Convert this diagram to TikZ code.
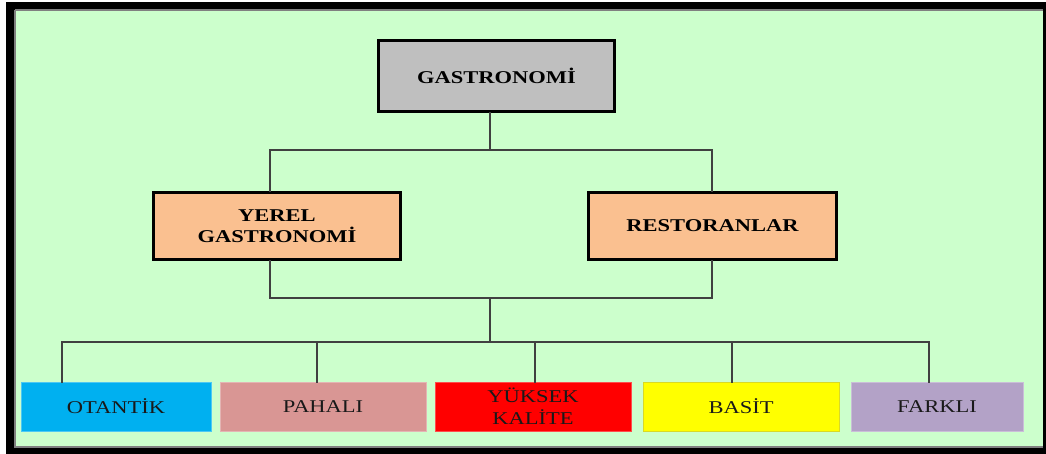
\documentclass[tikz,border=0pt]{standalone}
\usepackage{fontspec}
\setmainfont{Liberation Serif}
\newfontfamily\wideserif[FakeStretch=1.25]{Liberation Serif}
\definecolor{bgreen}{HTML}{CCFFCC}
\definecolor{gbox}{HTML}{BFBFBF}
\definecolor{peach}{HTML}{FAC090}
\definecolor{cblue}{HTML}{00B0F0}
\definecolor{cpink}{HTML}{D99694}
\definecolor{cred}{HTML}{FF0000}
\definecolor{cyellow}{HTML}{FFFF00}
\definecolor{cpurple}{HTML}{B3A2C7}
\definecolor{lineg}{HTML}{404040}
\tikzset{
  x=1pt, y=-1pt,
  topbox/.style={draw=black, line width=2.6pt, inner sep=0pt, align=center,
    font=\wideserif\bfseries\fontsize{18}{21}\selectfont, text=black},
  leafbox/.style={inner sep=0pt, align=center, line width=0.8pt,
    font=\wideserif\fontsize{18}{22}\selectfont, text=black!90},
  conn/.style={draw=lineg, line width=2.2pt, line cap=rect}
}
\begin{document}
\begin{tikzpicture}
\useasboundingbox (0,0) rectangle (1046,454);
\fill[white] (0,0) rectangle (1046,454);
\fill[black] (6,2) rectangle (1046,454);
\fill[bgreen] (15,10) rectangle (1043,447);
\draw[gray, line width=1.5pt] (15,10) -- (1043,10);
\draw[gray, line width=1.5pt] (15,10) -- (15,447) -- (1043,447);
% top
\node[topbox, fill=gbox, minimum width=236pt, minimum height=71pt] (g) at (496.5,76) {GASTRONOM\.I};
\node[topbox, fill=peach, minimum width=247pt, minimum height=67pt] (y) at (277,226) {YEREL\\GASTRONOM\.I};
\node[topbox, fill=peach, minimum width=248pt, minimum height=67pt] (r) at (712.5,226) {RESTORANLAR};
% leaves
\node[leafbox, fill=cblue, draw=cblue!70!white, minimum width=190pt, minimum height=49pt] (l1) at (116,406.5) {OTANT\.IK};
\node[leafbox, fill=cpink, draw=cpink!70!white, minimum width=206pt, minimum height=49pt] (l2) at (323,406.5) {PAHALI};
\node[leafbox, fill=cred, draw=cred!70!white, minimum width=196pt, minimum height=49pt] (l3) at (533,406.5) {Y\"UKSEK\\KAL\.ITE};
\node[leafbox, fill=cyellow, draw=cyellow!70!gray, minimum width=196pt, minimum height=49pt] (l4) at (741,406.5) {BAS\.IT};
\node[leafbox, fill=cpurple, draw=cpurple!70!white, minimum width=172pt, minimum height=49pt] (l5) at (937,406.5) {FARKLI};
% coordinates
\coordinate (j1) at (490,150);
\coordinate (j2) at (490,298);
\coordinate (j3) at (490,342);
\coordinate (ya) at (270,150);
\coordinate (ra) at (712,150);
\coordinate (yb) at (270,298);
\coordinate (rb) at (712,298);
% connectors
\draw[conn] (g.south -| j1) -- (j1);
\draw[conn] (ya) -- (ra);
\draw[conn] (ya) -- (y.north -| ya);
\draw[conn] (ra) -- (r.north -| ra);
\draw[conn] (y.south -| yb) -- (yb) -- (rb) -- (r.south -| rb);
\draw[conn] (j2) -- (j3);
\draw[conn] (62,342) -- (929,342);
\draw[conn] (62,342) -- (l1.north -| 62,0);
\draw[conn] (317,342) -- (l2.north -| 317,0);
\draw[conn] (535,342) -- (l3.north -| 535,0);
\draw[conn] (732,342) -- (l4.north -| 732,0);
\draw[conn] (929,342) -- (l5.north -| 929,0);
\end{tikzpicture}
\end{document}
